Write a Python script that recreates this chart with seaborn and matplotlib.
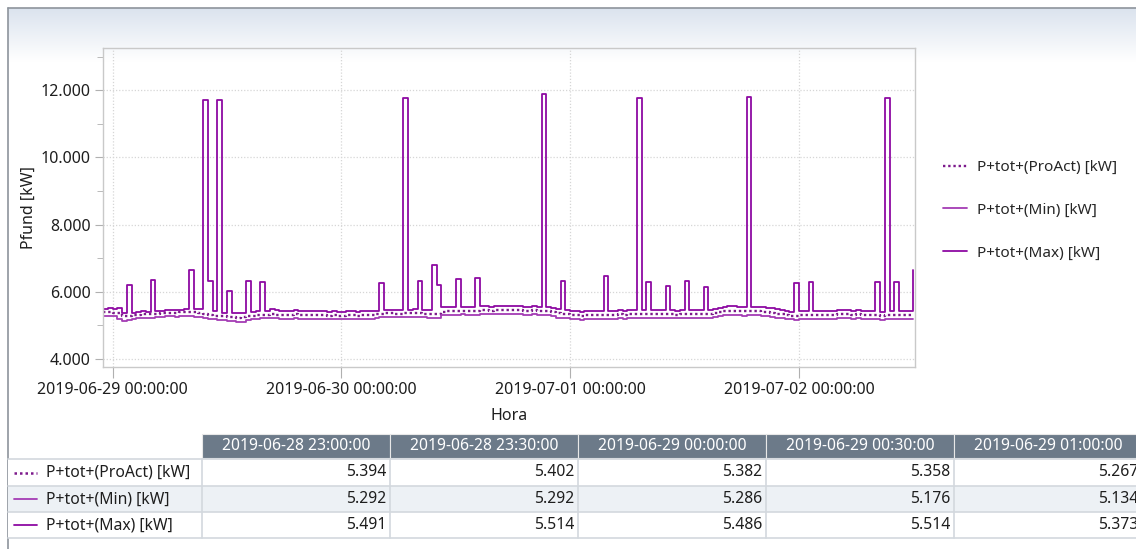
import numpy as np
import pandas as pd
import matplotlib
matplotlib.use("Agg")
import matplotlib.pyplot as plt
import matplotlib.dates as mdates
from matplotlib.ticker import FuncFormatter, MultipleLocator
from matplotlib.lines import Line2D
import seaborn as sns

# --- data (30 min steps, starting 2019-06-28 23:00) ---
start_time = "2019-06-28 23:00"

p_proact = [
    5394, 5402, 5382, 5358, 5267,
    5280, 5300, 5320, 5330, 5340,
    5350, 5350, 5360, 5370, 5380, 5370, 5390, 5390,
    5400, 5390, 5370, 5340, 5310, 5290, 5280, 5270,
    5250, 5240, 5230, 5240, 5270, 5280, 5300, 5310,
    5320, 5330, 5320, 5310, 5300, 5320, 5330, 5310,
    5300, 5310, 5320, 5310, 5300, 5290, 5300, 5290,
    5290, 5300, 5300, 5290, 5300, 5300, 5310, 5330,
    5350, 5360, 5360, 5350, 5350, 5370, 5360, 5370,
    5360, 5350, 5340, 5330, 5350, 5410, 5420, 5430,
    5440, 5440, 5420, 5430, 5440, 5450, 5450, 5440,
    5460, 5460, 5450, 5450, 5460, 5450, 5440, 5440,
    5450, 5440, 5430, 5420, 5400, 5360, 5340, 5330,
    5320, 5300, 5290, 5300, 5300, 5310, 5310, 5320,
    5320, 5310, 5330, 5320, 5330, 5340, 5330, 5340,
    5350, 5340, 5340, 5330, 5340, 5330, 5320, 5340,
    5340, 5350, 5340, 5330, 5340, 5340, 5360, 5390,
    5420, 5440, 5440, 5430, 5420, 5440, 5430, 5420,
    5410, 5400, 5380, 5350, 5330, 5300, 5290, 5290,
    5300, 5310, 5310, 5320, 5320, 5310, 5320, 5320,
    5330, 5340, 5330, 5320, 5330, 5310, 5300, 5300,
    5300, 5290, 5300, 5300, 5310, 5320, 5300, 5300, 5310,
]

p_min = [
    5292, 5292, 5286, 5176, 5134,
    5150, 5190, 5210, 5220, 5220,
    5230, 5250, 5260, 5270, 5270, 5260, 5270, 5270,
    5270, 5260, 5240, 5210, 5200, 5190, 5170, 5150,
    5140, 5120, 5100, 5110, 5160, 5180, 5200, 5210,
    5220, 5230, 5220, 5200, 5190, 5200, 5210, 5190,
    5180, 5190, 5200, 5190, 5180, 5180, 5190, 5180,
    5180, 5180, 5190, 5180, 5180, 5190, 5200, 5210,
    5240, 5250, 5250, 5240, 5240, 5250, 5250, 5260,
    5250, 5240, 5220, 5210, 5220, 5300, 5310, 5320,
    5320, 5330, 5310, 5320, 5320, 5330, 5330, 5330,
    5340, 5340, 5330, 5330, 5340, 5330, 5320, 5320,
    5330, 5320, 5300, 5300, 5280, 5230, 5220, 5210,
    5200, 5180, 5170, 5180, 5180, 5190, 5190, 5200,
    5200, 5200, 5210, 5200, 5210, 5220, 5220, 5220,
    5230, 5220, 5230, 5220, 5220, 5220, 5210, 5220,
    5220, 5230, 5230, 5220, 5220, 5220, 5240, 5270,
    5300, 5310, 5310, 5300, 5290, 5310, 5310, 5300,
    5290, 5280, 5260, 5230, 5220, 5180, 5180, 5170,
    5180, 5190, 5190, 5200, 5200, 5190, 5200, 5200,
    5210, 5220, 5210, 5200, 5210, 5200, 5190, 5180,
    5180, 5170, 5180, 5180, 5190, 5200, 5180, 5180, 5190,
]

p_max = [
    5491, 5514, 5486, 5514, 5373,
    6210, 5380, 5400, 5420, 5410,
    6360, 5430, 5440, 5450, 5460, 5450, 5470, 5480,
    6640, 5490, 5490, 11720, 6330, 5420, 11720, 5380,
    6010, 5370, 5360, 5380, 6330, 5400, 5420, 6280,
    5440, 5480, 5450, 5430, 5420, 5440, 5450, 5430,
    5420, 5430, 5440, 5430, 5420, 5410, 5420, 5410,
    5410, 5420, 5420, 5410, 5420, 5420, 5430, 5440,
    6250, 5460, 5460, 5450, 5460, 11760, 5470, 5480,
    6330, 5460, 5450, 6800, 6210, 5540, 5560, 5560,
    6380, 5560, 5540, 5550, 6410, 5570, 5570, 5560,
    5580, 5590, 5570, 5570, 5580, 5570, 5560, 5560,
    5570, 5560, 11880, 5540, 5520, 5490, 6310, 5460,
    5440, 5420, 5410, 5420, 5420, 5430, 5430, 6460,
    5440, 5430, 5450, 5440, 5450, 5460, 11760, 5460,
    6280, 5460, 5460, 5450, 6180, 5450, 5440, 5460,
    6330, 5470, 5460, 5450, 6150, 5460, 5480, 5510,
    5550, 5570, 5570, 5560, 5550, 11800, 5560, 5550,
    5540, 5530, 5510, 5480, 5450, 5420, 5410, 6250,
    5420, 5430, 6280, 5440, 5440, 5430, 5440, 5440,
    5450, 5460, 5450, 5440, 5450, 5430, 5420, 5420,
    6280, 5410, 11760, 5420, 6280, 5440, 5420, 5420, 6660,
]

series_names = ["P+tot+(ProAct) [kW]", "P+tot+(Min) [kW]", "P+tot+(Max) [kW]"]
table_cols = 5  # number of time columns shown in the table

# colours
col_proact = "#7d1a8c"
col_min = "#a43cb4"
col_max = "#8e0aa2"
header_grey = "#6c7a89"
txt_col = "#1e1e1e"
dots = (0, (1.0, 1.2))

times = pd.date_range(start_time, periods=len(p_max), freq="30min")
df = pd.DataFrame({"Hora": times,
                   series_names[0]: p_proact,
                   series_names[1]: p_min,
                   series_names[2]: p_max})

sns.set_style("white")
plt.rcParams["font.family"] = ["Noto Sans", "DejaVu Sans"]

W, H = 1136, 549
fig = plt.figure(figsize=(W / 100, H / 100), dpi=100)
fig.patch.set_facecolor("white")

# background: frame and light gradient at the top (pixel coordinates)
bg = fig.add_axes([0, 0, 1, 1], zorder=-5)
bg.set_xlim(0, W)
bg.set_ylim(H, 0)
bg.axis("off")
grad = np.linspace(0, 1, 100).reshape(-1, 1)
bg.imshow(grad, extent=(8, W, 62, 8), cmap=matplotlib.colors.LinearSegmentedColormap.from_list(
    "g", ["#dbe3ee", "#ffffff"]), aspect="auto", zorder=0)
bg.plot([8, 8], [8, H], color="#8d949c", lw=1.2)
bg.plot([8, W], [8, 8], color="#8d949c", lw=1.2)

# --- main chart ---
ax = fig.add_axes([103 / W, 1 - 367 / H, (915 - 103) / W, (367 - 48) / H])
ax.set_facecolor("none")

sns.lineplot(data=df, x="Hora", y=series_names[0], ax=ax, color=col_proact,
             linestyle=dots, linewidth=1.7, drawstyle="steps-post",
             label=series_names[0])
sns.lineplot(data=df, x="Hora", y=series_names[1], ax=ax, color=col_min,
             linewidth=1.3, drawstyle="steps-post", label=series_names[1])
sns.lineplot(data=df, x="Hora", y=series_names[2], ax=ax, color=col_max,
             linewidth=1.3, drawstyle="steps-post", label=series_names[2])

ax.set_ylim(3760, 13260)
ax.set_xlim(times[0], times[-1] + pd.Timedelta(minutes=10))
ax.yaxis.set_major_locator(MultipleLocator(2000))
ax.yaxis.set_minor_locator(MultipleLocator(1000))
ax.yaxis.set_major_formatter(FuncFormatter(lambda v, p: f"{v:,.0f}".replace(",", ".")))
ax.xaxis.set_major_locator(mdates.DayLocator())
ax.xaxis.set_major_formatter(mdates.DateFormatter("%Y-%m-%d %H:%M:%S"))

ax.grid(True, which="major", color="#d6d6d6", linestyle=(0, (1, 1.5)), linewidth=0.9)
for sp in ax.spines.values():
    sp.set_color("#c9c9c9")
    sp.set_linewidth(1.0)
ax.tick_params(axis="both", which="both", direction="out", colors="#b0b0b0",
               labelcolor=txt_col, labelsize=11.5)
ax.tick_params(axis="y", which="major", length=6, left=True, pad=3)
ax.tick_params(axis="y", which="minor", length=4, left=True)
ax.tick_params(axis="x", which="major", length=8, bottom=True, pad=3)

ax.set_ylabel("Pfund [kW]", fontsize=11.5, color=txt_col, labelpad=3)
ax.set_xlabel("Hora", fontsize=11.5, color=txt_col, labelpad=7)

ax.get_legend().remove()
handles, labels = ax.get_legend_handles_labels()
fig.legend(handles, labels, loc="upper left", bbox_to_anchor=(943 / W, 1 - 160 / H),
           frameon=False, borderpad=0, borderaxespad=0, fontsize=11,
           labelspacing=1.82, handlelength=1.55, handletextpad=0.7)

# --- table below the chart ---
tb = fig.add_axes([0, 0, 1, 1], zorder=5)
tb.set_xlim(0, W)
tb.set_ylim(H, 0)
tb.axis("off")

col_edges = [8, 202, 390, 578, 766, 954, 1142]
head_top, head_bot = 434, 458
row_edges = [459, 486, 512, 538]
line_col = "#d3d8de"
row_bg = ["#ffffff", "#edf1f5", "#ffffff"]

for r in range(3):
    tb.add_patch(plt.Rectangle((col_edges[0], row_edges[r]), W - col_edges[0],
                               row_edges[r + 1] - row_edges[r],
                               facecolor=row_bg[r], edgecolor="none"))
for c in range(1, len(col_edges) - 1):
    tb.add_patch(plt.Rectangle((col_edges[c], head_top), col_edges[c + 1] - col_edges[c],
                               head_bot - head_top, facecolor=header_grey,
                               edgecolor="#e8e8e8", lw=0.8))
    tb.text((col_edges[c] + col_edges[c + 1]) / 2, (head_top + head_bot) / 2 + 0.5,
            times[c - 1].strftime("%Y-%m-%d %H:%M:%S"), color="white",
            fontsize=11.3, ha="center", va="center")
for y in row_edges:
    tb.plot([col_edges[0], W], [y, y], color=line_col, lw=1.2)
for x in col_edges[1:-1]:
    tb.plot([x, x], [row_edges[0], row_edges[-1]], color=line_col, lw=1.2)

row_series = [p_proact, p_min, p_max]
row_styles = [(col_proact, dots, 1.8), (col_min, "-", 1.3), (col_max, "-", 1.3)]
for r in range(3):
    yc = (row_edges[r] + row_edges[r + 1]) / 2
    colr, ls, lw = row_styles[r]
    tb.add_line(Line2D([14, 37], [yc, yc], color=colr, linestyle=ls, linewidth=lw))
    tb.text(46, yc, series_names[r], fontsize=11.3, ha="left", va="center", color=txt_col)
    for c in range(table_cols):
        tb.text(col_edges[c + 2] - 4, yc, f"{row_series[r][c] / 1000:.3f}",
                fontsize=11.3, ha="right", va="center", color=txt_col)

fig.savefig("out.png", dpi=100)
